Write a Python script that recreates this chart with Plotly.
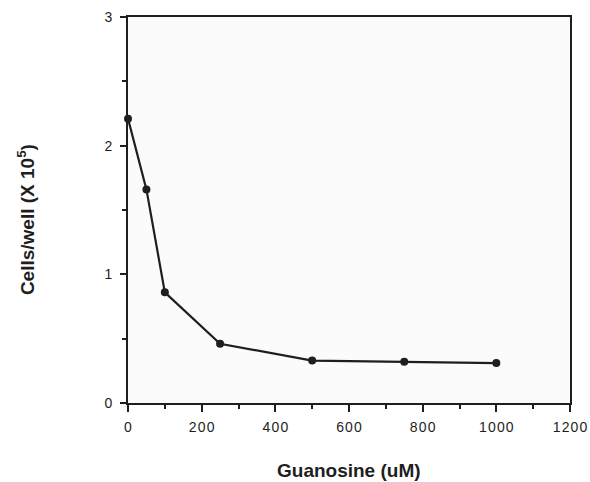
import plotly.graph_objects as go

guanosine_um = [0, 50, 100, 250, 500, 750, 1000]
cells_per_well = [2.21, 1.66, 0.86, 0.46, 0.33, 0.32, 0.31]

x_ticks = [0, 200, 400, 600, 800, 1000, 1200]
y_ticks = [0, 1, 2, 3]

hs = "\u200a"
def spaced(v):
    return hs.join(str(v))

ink = "#1e1e1e"
fig = go.Figure()
fig.add_trace(go.Scatter(
    x=guanosine_um, y=cells_per_well, mode="lines+markers",
    line=dict(color=ink, width=2.2),
    marker=dict(color=ink, size=8, symbol="circle"),
    showlegend=False, cliponaxis=False,
))

fig.update_layout(
    width=590, height=482,
    margin=dict(l=128, r=20, t=17, b=79),
    paper_bgcolor="white", plot_bgcolor="#fbfbfb",
    font=dict(family="Liberation Sans, Arial, sans-serif", color=ink, size=14),
    xaxis=dict(
        range=[0, 1200], tickvals=x_ticks, ticktext=[spaced(v) for v in x_ticks],
        showgrid=False, zeroline=False, showline=True, linecolor=ink, linewidth=1.8,
        mirror=True, ticks="outside", ticklen=7, tickwidth=1.8, tickcolor=ink,
        minor=dict(dtick=100, ticks="outside", ticklen=4, tickwidth=1.5, tickcolor=ink),
        tickfont=dict(size=14), ticklabelstandoff=3, fixedrange=True, automargin=False,
    ),
    yaxis=dict(
        range=[0, 3], tickvals=y_ticks, ticktext=[str(v) for v in y_ticks],
        showgrid=False, zeroline=False, showline=True, linecolor=ink, linewidth=1.8,
        mirror=True, ticks="outside", ticklen=6, tickwidth=1.8, tickcolor=ink,
        minor=dict(dtick=0.5, ticks="outside", ticklen=4, tickwidth=1.5, tickcolor=ink),
        tickfont=dict(size=14), ticklabelstandoff=5, fixedrange=True, automargin=False,
    ),
    annotations=[
        dict(text="<b>Guanosine (uM)</b>", xref="paper", yref="paper",
             x=0.5, y=-0.175, xanchor="center", yanchor="middle",
             showarrow=False, font=dict(size=19)),
        dict(text="<b>Cells/well (X 10<sup>5</sup>)</b>", xref="paper", yref="paper",
             x=-0.232, y=0.475, xanchor="center", yanchor="middle", textangle=-90,
             showarrow=False, font=dict(size=19)),
    ],
)

fig.write_html("out.html")
